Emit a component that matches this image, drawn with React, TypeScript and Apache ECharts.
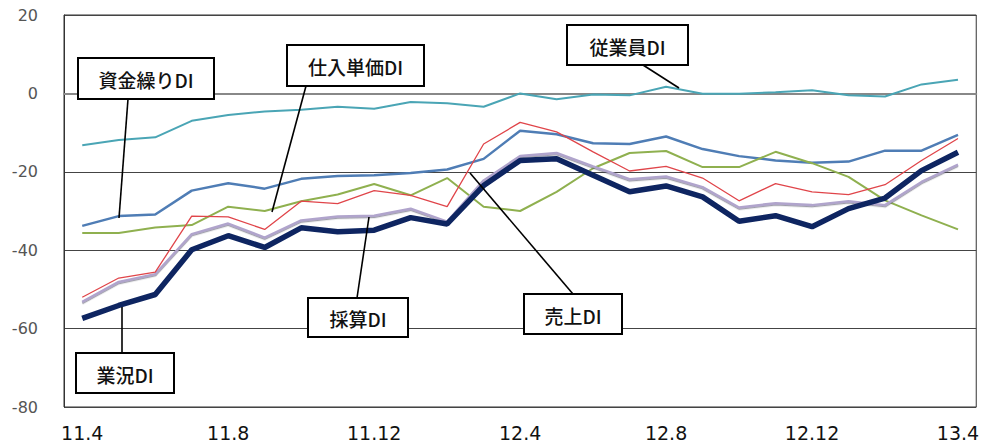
import React, { useEffect, useRef } from "react";
import * as echarts from "echarts";

const categories = [
  "11.4", "11.5", "11.6", "11.7", "11.8", "11.9", "11.10", "11.11", "11.12",
  "12.1", "12.2", "12.3", "12.4", "12.5", "12.6", "12.7", "12.8", "12.9", "12.10", "12.11", "12.12",
  "13.1", "13.2", "13.3", "13.4",
];

const gyokyoDI = [-57.4, -54.1, -51.3, -39.9, -36.3, -39.3, -34.3, -35.3, -34.9, -31.7, -33.3, -23.5, -17.1, -16.7, -20.9, -25.1, -23.6, -26.4, -32.6, -31.2, -34.0, -29.4, -26.7, -19.7, -15.0];
const uriageDI = [-52.0, -47.1, -45.6, -31.3, -31.5, -34.7, -27.5, -28.1, -24.8, -26.0, -28.9, -12.9, -7.4, -9.8, -14.9, -19.8, -18.6, -21.6, -27.4, -23.0, -25.1, -25.8, -23.3, -17.1, -11.5];
const saisanDI = [-53.2, -48.1, -46.1, -35.9, -33.2, -36.8, -32.4, -31.4, -31.2, -29.4, -32.7, -22.2, -16.0, -15.2, -18.6, -21.9, -21.2, -23.9, -29.1, -28.0, -28.5, -27.5, -28.5, -22.6, -18.2];
const shikinguriDI = [-33.8, -31.3, -30.9, -24.8, -22.9, -24.3, -21.8, -21.1, -20.9, -20.3, -19.4, -16.7, -9.5, -10.4, -12.7, -12.9, -11.0, -14.2, -16.0, -17.1, -17.7, -17.4, -14.6, -14.6, -10.6];
const shiiretankaDI = [-35.6, -35.6, -34.2, -33.6, -28.9, -30.0, -27.5, -25.8, -23.1, -26.0, -21.6, -28.9, -30.0, -25.1, -19.1, -15.2, -14.7, -18.8, -18.8, -14.9, -17.8, -21.3, -27.3, -31.1, -34.7];
const juugyouinDI = [-13.2, -11.9, -11.2, -7.0, -5.5, -4.6, -4.2, -3.4, -3.9, -2.2, -2.5, -3.4, 0.0, -1.5, -0.3, -0.5, 1.7, -0.1, -0.1, 0.3, 0.8, -0.5, -0.8, 2.3, 3.5];

const yMin = -80;
const yMax = 20;
const yInterval = 20;

// annotation boxes: label, box rect, pointer line (pixel layout)
const annotations = [
  { text: "資金繰りDI", box: [78, 58, 136, 41], line: [128, 99, 119, 218] },
  { text: "仕入単価DI", box: [287, 45, 137, 41], line: [306, 86, 272, 212] },
  { text: "従業員DI", box: [567, 25, 121, 40], line: [643, 65, 679, 88] },
  { text: "採算DI", box: [308, 298, 100, 39], line: [357, 298, 369, 217] },
  { text: "売上DI", box: [524, 294, 98, 40], line: [573, 294, 470, 173] },
  { text: "業況DI", box: [76, 353, 98, 40], line: [122, 353, 122, 307] },
];

export default function App() {
  const ref = useRef<HTMLDivElement>(null);
  useEffect(() => {
    if (!ref.current) return;
    const chart = echarts.init(ref.current, undefined, { renderer: "svg" });
    const graphics: any[] = [];
    annotations.forEach((a) => {
      graphics.push({
        type: "line",
        shape: { x1: a.line[0], y1: a.line[1], x2: a.line[2], y2: a.line[3] },
        style: { stroke: "#000", lineWidth: 1.6 },
        z: 100,
      });
    });
    annotations.forEach((a) => {
      graphics.push({
        type: "rect",
        shape: { x: a.box[0], y: a.box[1], width: a.box[2], height: a.box[3] },
        style: { fill: "#fff", stroke: "#000", lineWidth: 2 },
        z: 101,
      });
      graphics.push({
        type: "text",
        x: a.box[0] + a.box[2] / 2,
        y: a.box[1] + a.box[3] / 2 + 1,
        style: {
          text: a.text,
          fill: "#111",
          font: "500 19px 'Noto Sans CJK JP', sans-serif",
          align: "center",
          verticalAlign: "middle",
        },
        z: 102,
      });
    });

    const mk = (name: string, data: number[], color: string, width: number, extra: any = {}) => ({
      name,
      type: "line",
      data,
      symbol: "none",
      lineStyle: { color, width, ...extra },
      itemStyle: { color },
    });

    chart.setOption({
      animation: false,
      backgroundColor: "#fff",
      grid: { left: 64, top: 15, bottom: 33, width: 920, show: true, borderColor: "#333", borderWidth: 1 },
      xAxis: {
        type: "category",
        data: categories,
        boundaryGap: true,
        axisLine: { show: true, lineStyle: { color: "#888", width: 2 } },
        axisTick: { show: false },
        axisLabel: {
          interval: 3,
          margin: 16,
          color: "#111",
          fontSize: 19,
          fontFamily: "'DejaVu Sans', sans-serif",
        },
        splitLine: { show: false },
      },
      yAxis: {
        type: "value",
        min: yMin,
        max: yMax,
        interval: yInterval,
        axisLine: { show: true, lineStyle: { color: "#333", width: 1 } },
        axisTick: { show: false },
        axisLabel: {
          margin: 26,
          color: "#555",
          fontSize: 16,
          fontFamily: "'DejaVu Sans', sans-serif",
        },
        splitLine: { show: true, lineStyle: { color: "#444", width: 1 } },
      },
      series: [
        mk("従業員DI", juugyouinDI, "#4AA5B5", 2),
        mk("資金繰りDI", shikinguriDI, "#4F7DB5", 2.5),
        mk("仕入単価DI", shiiretankaDI, "#8FB04F", 2),
        mk("採算DI", saisanDI, "#B0A4CC", 2.5, { shadowColor: "rgba(80,80,100,0.55)", shadowBlur: 0, shadowOffsetY: 1.2 }),
        mk("売上DI", uriageDI, "#E0454A", 1.3),
        mk("業況DI", gyokyoDI, "#0E2561", 5.5),
      ],
      graphic: graphics,
    });
    return () => chart.dispose();
  }, []);
  return (
    <div
      ref={ref}
      style={{ position: "fixed", left: 0, top: 0, width: 982, height: 442 }}
    />
  );
}
